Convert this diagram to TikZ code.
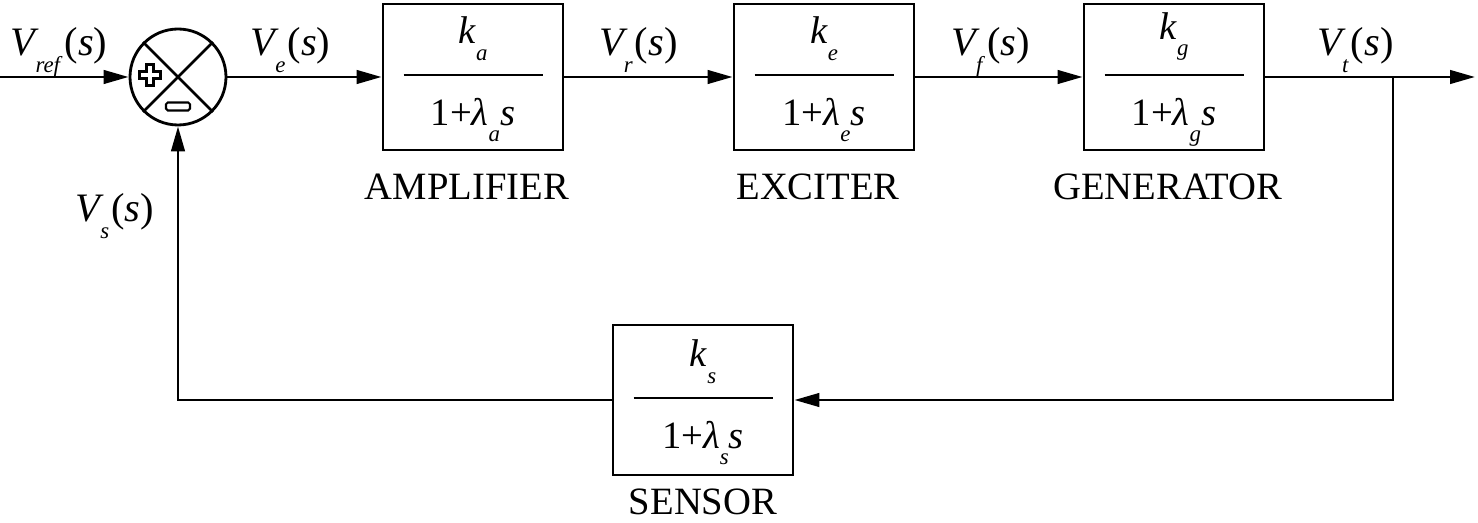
\documentclass[tikz,border=0pt]{standalone}
\usepackage{fontspec}
\setmainfont{Liberation Serif}
\usetikzlibrary{arrows.meta,positioning}

\newcommand{\low}[1]{\raisebox{-0.42em}{\fontsize{13}{13}\selectfont\textit{#1}}}
\newcommand{\sig}[1]{\textit{V}\kern-0.1em\low{#1}\kern0.05em(\textit{s})}
\newcommand{\gain}[1]{\begin{tabular}{@{}c@{}}\textit{k}\low{#1}\\[-6pt]\rule[0.3ex]{2.78cm}{1.3pt}\\[-1pt]1+\textit{λ}\low{#1}\textit{s}\end{tabular}}

\tikzset{
  block/.style={draw, line width=1.6pt, minimum width=3.6cm, minimum height=2.92cm, inner sep=0pt, font=\fontsize{22}{26}\selectfont},
  junction/.style={draw, circle, line width=1.6pt, minimum size=1.92cm, inner sep=0pt},
  sig/.style={line width=1.6pt, -{Triangle[length=0.5cm, width=0.27cm]}},
  wire/.style={line width=1.6pt},
  lbl/.style={anchor=base, yshift=12pt, font=\fontsize{23}{27}\selectfont, inner sep=0pt},
  blockname/.style={anchor=base, font=\fontsize{22}{26}\selectfont, inner sep=0pt},
}

\begin{document}
\begin{tikzpicture}
\useasboundingbox (0,0) rectangle (29.56,-10.46);

% forward path
\coordinate (in) at (0,-1.54);
\node[junction] (sum) at (3.56,-1.54) {};
\node[block] (amp) at (9.46,-1.54) {\gain{a}};
\node[block] (exc) at (16.48,-1.54) {\gain{e}};
\node[block] (gen) at (23.48,-1.54) {\gain{g}};
\coordinate (br) at (27.86,-1.54);
\coordinate (out) at (29.5,-1.54);

% feedback path
\node[block, minimum height=3.0cm] (sen) at (14.06,-8.0) {\gain{s}};

% names under the blocks
\node[blockname] (ampname) at ([xshift=-0.12cm, yshift=-0.96cm]amp.south) {AMPLIFIER};
\node[blockname] (excname) at ([xshift=-0.12cm, yshift=-0.96cm]exc.south) {EXCITER};
\node[blockname] (genname) at ([xshift=-0.12cm, yshift=-0.96cm]gen.south) {GENERATOR};
\node[blockname] (senname) at ([yshift=-0.76cm]sen.south) {SENSOR};

% summing junction marks
\draw[wire] (sum.north west) -- (sum.south east);
\draw[wire] (sum.north east) -- (sum.south west);
\begin{scope}[shift={(3.0,-1.5)}, line width=1.2pt]
  \draw (-0.07,0.21) -- (0.07,0.21) -- (0.07,0.07) -- (0.21,0.07) -- (0.21,-0.07) -- (0.07,-0.07)
     -- (0.07,-0.21) -- (-0.07,-0.21) -- (-0.07,-0.07) -- (-0.21,-0.07) -- (-0.21,0.07) -- (-0.07,0.07) -- cycle;
\end{scope}
\draw[line width=1.2pt, rounded corners=1pt] (3.32,-2.05) rectangle (3.80,-2.21);

% signals
\draw[sig] (in) -- node[lbl, pos=0.46] (vref) {\sig{ref}} (sum);
\draw[sig] (sum) -- node[lbl, pos=0.41] (ve) {\sig{e}} (amp);
\draw[sig] (amp) -- node[lbl, pos=0.44] (vr) {\sig{r}} (exc);
\draw[sig] (exc) -- node[lbl, pos=0.45] (vf) {\sig{f}} (gen);
\draw[sig] (gen) -- node[lbl, pos=0.43] (vt) {\sig{t}} (out);
\draw[sig] (br) |- (sen);
\draw[sig] (sen) -| (sum);
\node[blockname, font=\fontsize{23}{27}\selectfont] (vs) at (2.3,-4.44) {\sig{s}};
\end{tikzpicture}
\end{document}
